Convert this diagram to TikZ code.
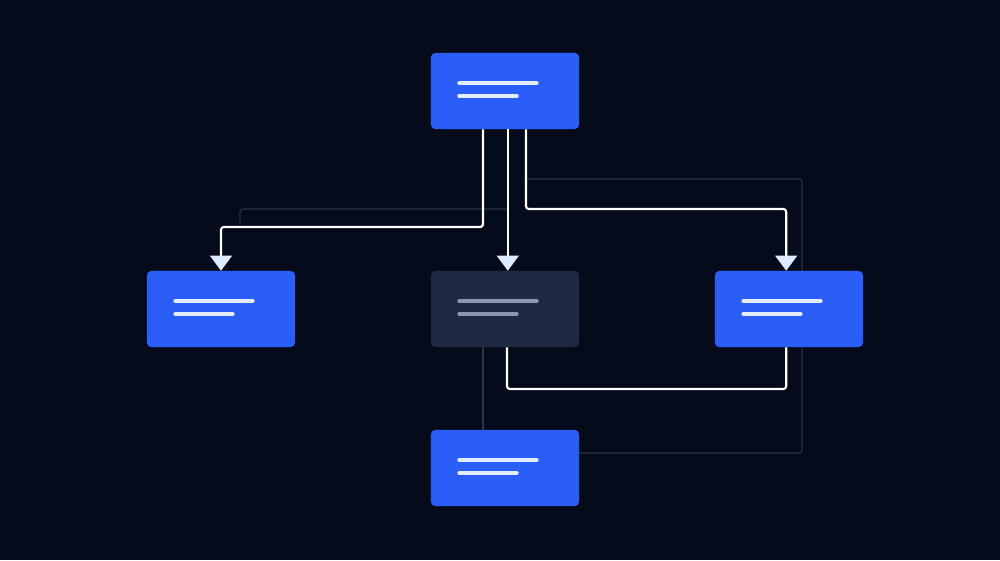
\documentclass[tikz,border=0pt]{standalone}
\usepackage{tikz}
\usetikzlibrary{positioning,arrows.meta}

\definecolor{bgnavy}{RGB}{5,11,27}
\definecolor{cardblue}{RGB}{42,94,246}
\definecolor{cardgray}{RGB}{31,42,66}
\definecolor{barlight}{RGB}{228,236,255}
\definecolor{bardim}{RGB}{138,152,178}
\definecolor{faintline}{RGB}{40,52,74}
\definecolor{tipfill}{RGB}{222,234,255}

\tikzset{
  card/.style={rectangle, rounded corners=3pt, fill=cardblue, draw=none,
               minimum width=3.7cm, minimum height=1.9cm, inner sep=0pt},
  ghostcard/.style={card, fill=cardgray},
  flow/.style={draw=white, line width=1.5pt, rounded corners=2},
  flowtip/.style={flow, -{Triangle[width=0.55cm,length=0.38cm,fill=tipfill,color=tipfill]}},
  faint/.style={draw=faintline, line width=0.8pt, rounded corners=2},
  bar/.style={line width=2.4pt, line cap=round, draw=barlight},
  dimbar/.style={bar, draw=bardim},
}

\begin{document}
\begin{tikzpicture}[x=0.025cm, y=-0.025cm]
    \useasboundingbox[fill=bgnavy] (0,0) rectangle (1000,560);

    % faint guide lines behind
    \draw[faint] (240,223) -- (240,209) -- (507,209);
    \draw[faint] (526,179) -- (802,179) -- (802,453) -- (579,453);
    \draw[faint] (483,347) -- (483,430);

    % cards
    \node (top) [card] at (505,91) {};
    \node (left) [card] at (221,309) {};
    \node (mid) [ghostcard] at (505,309) {};
    \node (right) [card] at (789,309) {};
    \node (bottom) [card] at (505,468) {};

    % text bars
    \foreach \c in {top,left,right,bottom}{
      \draw[bar] ([shift={(-46,-8)}]\c.center) -- ([shift={(32,-8)}]\c.center);
      \draw[bar] ([shift={(-46,5)}]\c.center) -- ([shift={(12,5)}]\c.center);
    }
    \draw[dimbar] ([shift={(-46,-8)}]mid.center) -- ([shift={(32,-8)}]mid.center);
    \draw[dimbar] ([shift={(-46,5)}]mid.center) -- ([shift={(12,5)}]mid.center);

    % connectors
    \coordinate (jl) at (483,227);
    \coordinate (jr) at (526,209);
    \coordinate (jb) at (507,389);
    \draw[flowtip] (top.south -| jl) -- (jl) -| (left.north);
    \draw[flowtip] ([xshift=2]top.south) -- ([xshift=2]mid.north);
    \draw[flowtip] (top.south -| jr) -- (jr) -| ([xshift=-2]right.north);
    \draw[flow] (mid.south -| jb) -- (jb) -| ([xshift=-2]right.south);
\end{tikzpicture}
\end{document}
